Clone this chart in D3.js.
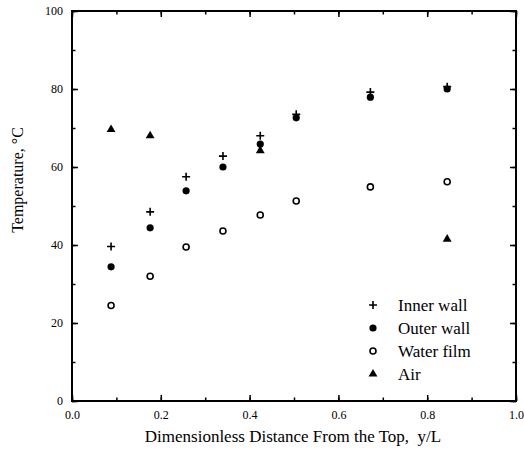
<html>
<head>
  <script src="https://d3js.org/d3.v7.min.js"></script>
  <style>
    body { margin: 0; background: #fff; }
    text { font-family: "Liberation Serif", "Times New Roman", serif; fill: #000; }
  </style>
</head>
<body>
<script>
var width = 524, height = 452;

// positions along the wall, y/L
var positions = [0.088, 0.176, 0.257, 0.34, 0.424, 0.505, 0.672, 0.845];
var innerWall = [39.6, 48.5, 57.5, 62.8, 68.0, 73.5, 79.2, 80.6];
var outerWall = [34.4, 44.4, 53.9, 60.0, 65.9, 72.6, 77.9, 80.0];
var waterFilm = [24.5, 32.0, 39.5, 43.6, 47.7, 51.3, 54.9, 56.2];
var airX = [0.088, 0.176, 0.424, 0.845];
var airTemp = [69.6, 68.0, 64.2, 41.5];

var xTicks = [0, 0.2, 0.4, 0.6, 0.8, 1.0];
var yTicks = [0, 20, 40, 60, 80, 100];
var legendNames = ['Inner wall', 'Outer wall', 'Water film', 'Air'];

var margin = {left: 72, right: 8, top: 11, bottom: 51};

var svg = d3.select('body').append('svg')
  .attr('width', width)
  .attr('height', height);

var x = d3.scaleLinear().domain([0, 1]).range([margin.left, width - margin.right]);
var y = d3.scaleLinear().domain([0, 100]).range([height - margin.bottom, margin.top]);

// frame + inward ticks on all sides
function tickAxis(axisFn, scale, ticks, minor, pos, fmt) {
  var g = svg.append('g').attr('transform', pos);
  g.call(axisFn(scale).tickValues(minor).tickSize(-3.5).tickFormat(''));
  var labels = g.append('g').call(axisFn(scale).tickValues(ticks).tickSize(-6).tickPadding(9).tickFormat(fmt));
  labels.attr('font-family', '"Liberation Serif", serif').attr('font-size', 12);
  g.selectAll('path').remove();
  g.selectAll('line').attr('stroke', '#000').attr('stroke-width', 1.5);
  return g;
}

var xMinor = d3.range(0, 1.01, 0.1);
var yMinor = d3.range(0, 101, 10);
tickAxis(d3.axisBottom, x, xTicks, xMinor, 'translate(0,' + y(0) + ')', d3.format('.1f'));
tickAxis(d3.axisTop, x, xTicks, xMinor, 'translate(0,' + y(100) + ')', '').selectAll('text').remove();
tickAxis(d3.axisLeft, y, yTicks, yMinor, 'translate(' + x(0) + ',0)', d3.format('d'));
tickAxis(d3.axisRight, y, yTicks, yMinor, 'translate(' + x(1) + ',0)', '').selectAll('text').remove();

svg.append('rect')
  .attr('x', x(0)).attr('y', y(100))
  .attr('width', x(1) - x(0)).attr('height', y(0) - y(100))
  .attr('fill', 'none').attr('stroke', '#000').attr('stroke-width', 2);

// marker shapes
function drawMarker(g, kind) {
  if (kind === 0) {
    g.append('path').attr('d', 'M-4,0H4M0,-4V4').attr('stroke', '#000').attr('stroke-width', 1.6);
  } else if (kind === 1) {
    g.append('circle').attr('r', 3.6).attr('fill', '#000');
  } else if (kind === 2) {
    g.append('circle').attr('r', 3).attr('fill', '#fff').attr('stroke', '#000').attr('stroke-width', 1.6);
  } else {
    g.append('path').attr('d', d3.symbol().type(d3.symbolTriangle).size(34)()).attr('fill', '#000');
  }
}

var series = [
  {xs: positions, ys: waterFilm, kind: 2},
  {xs: airX, ys: airTemp, kind: 3},
  {xs: positions, ys: outerWall, kind: 1},
  {xs: positions, ys: innerWall, kind: 0}
];

series.forEach(function(s) {
  s.ys.forEach(function(v, i) {
    var g = svg.append('g').attr('transform', 'translate(' + x(s.xs[i]) + ',' + y(v) + ')');
    drawMarker(g, s.kind);
  });
});

// legend
legendNames.forEach(function(name, i) {
  var ly = 305 + i * 23;
  var g = svg.append('g').attr('transform', 'translate(373,' + ly + ')');
  drawMarker(g, i);
  svg.append('text')
    .attr('x', 398).attr('y', ly + 6)
    .style('font-size', '17px')
    .text(name);
});

// axis titles
svg.append('text')
  .attr('x', 293).attr('y', 442)
  .attr('text-anchor', 'middle')
  .style('font-size', '17px')
  .text('Dimensionless Distance From the Top,\u00A0 y/L');

svg.append('text')
  .attr('transform', 'translate(23,180) rotate(-90)')
  .attr('text-anchor', 'middle')
  .style('font-size', '16px')
  .text('Temperature, \u00B0C');
</script>
</body>
</html>
